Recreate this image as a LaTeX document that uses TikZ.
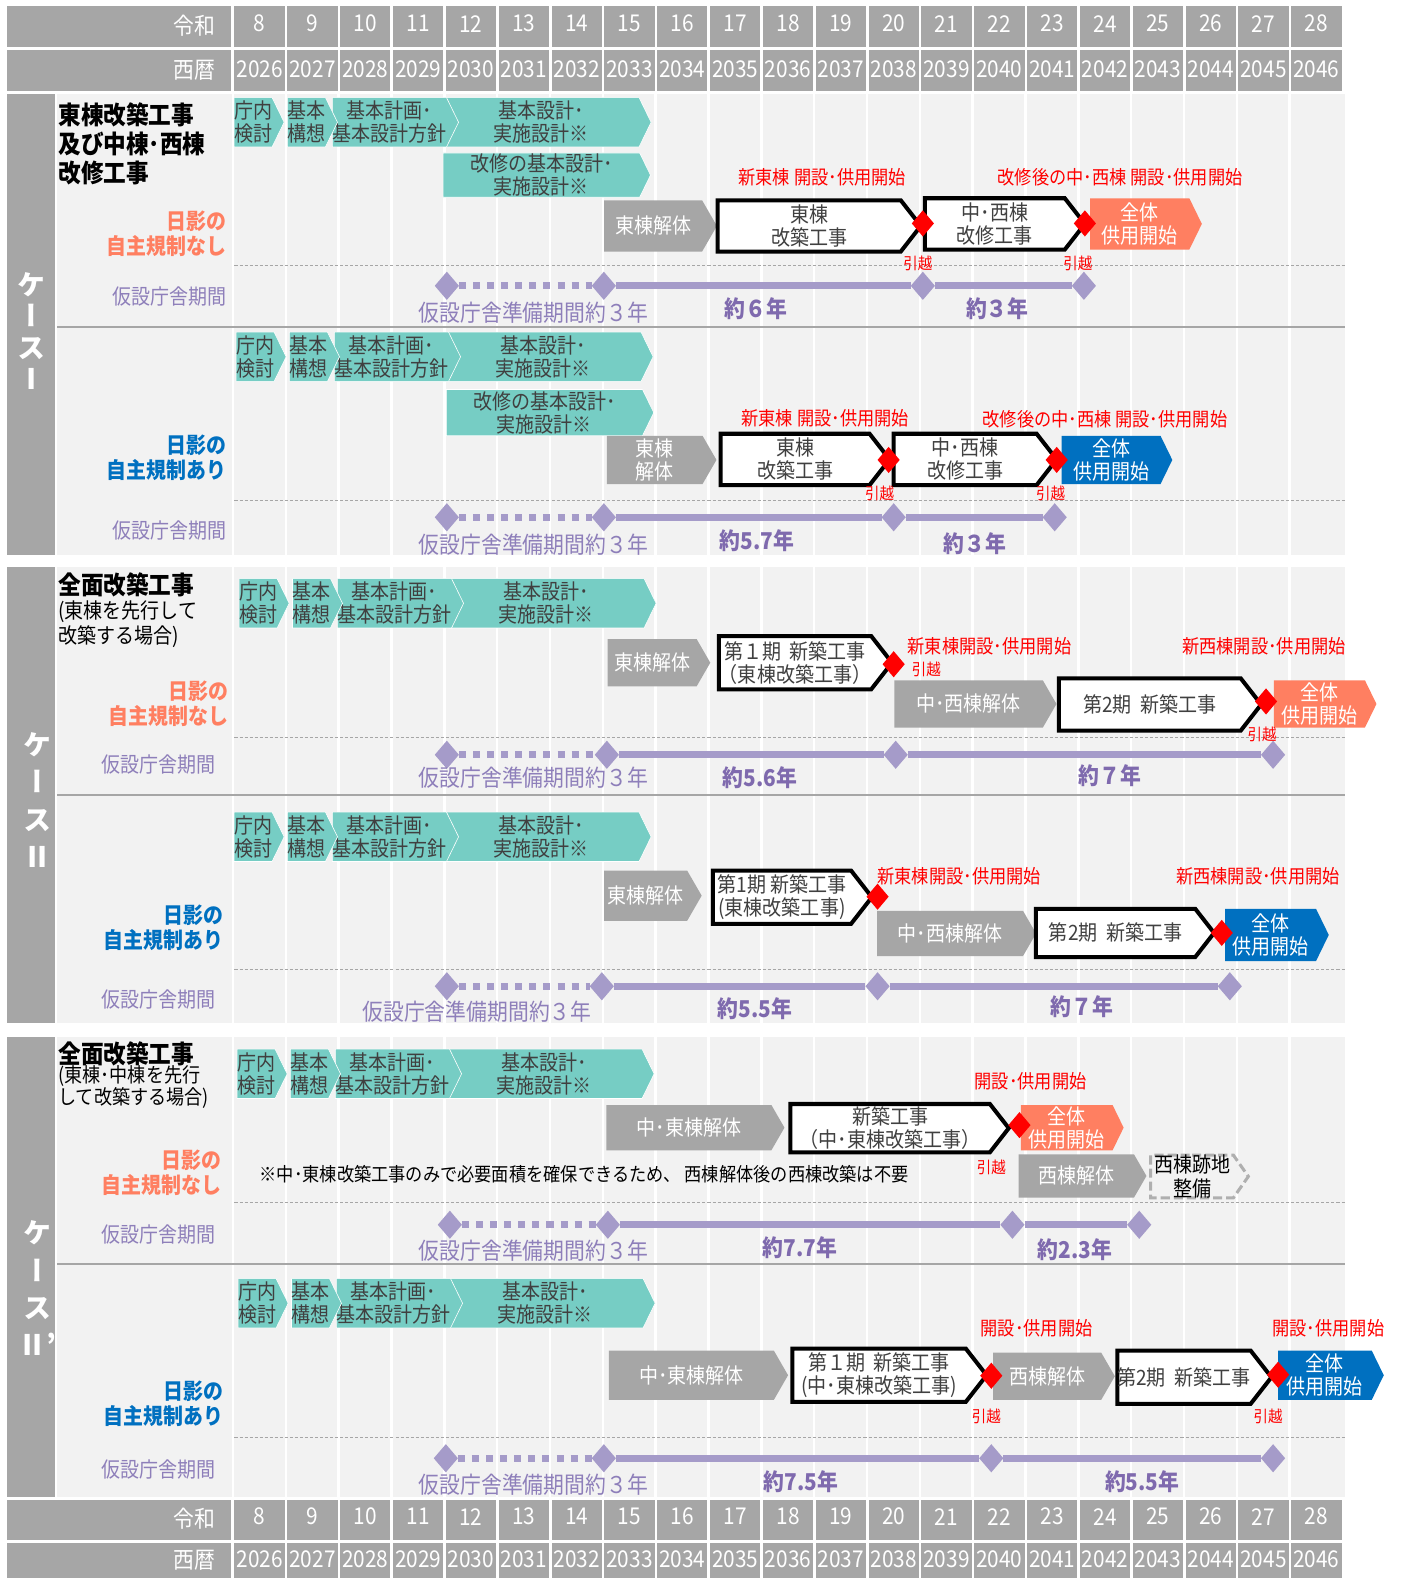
\documentclass[tikz,border=0pt]{standalone}
\usepackage{fontspec}
\setmainfont{Noto Sans CJK JP}[FakeStretch=0.9]
\newfontfamily\jpvert{Noto Sans CJK JP}[RawFeature=+vert]
\usetikzlibrary{shapes.symbols, shapes.geometric}

\definecolor{hdrgray}{HTML}{A6A6A6}
\definecolor{bggray}{HTML}{F2F2F2}
\definecolor{designteal}{HTML}{76CDC4}
\definecolor{coral}{HTML}{FF7F61}
\definecolor{shadeblue}{HTML}{0070C0}
\definecolor{tlpurple}{HTML}{A59BC9}
\definecolor{txtpurple}{HTML}{7F6AAE}
\definecolor{lblpurple}{HTML}{8E7FBA}
\definecolor{darktxt}{HTML}{404040}
\newcommand{\fsz}[2]{\fontsize{#1}{#2}\selectfont}

\begin{document}
\begin{tikzpicture}[x=1pt, y=-1pt,
    every node/.style={inner sep=0pt, outer sep=0pt},
    wh/.style 2 args={minimum width=#1pt, minimum height=#2pt},
    hdrtext/.style={text=white, font=\fsz{23}{25}},
    chev/.style={shape=signal, signal to=east, signal from=nowhere, align=center, font=\fsz{21}{23}},
    designbox/.style={chev, xshift=-6pt, fill=designteal, draw=white, line width=0.6pt, signal pointer angle=128, text=darktxt},
    demobox/.style={chev, xshift=-7pt, fill=hdrgray, signal pointer angle=120, text=white},
    buildbox/.style={chev, xshift=-10pt, fill=white, draw=black, line width=4pt, signal pointer angle=104, text=darktxt},
    nashibox/.style={chev, xshift=-6pt, fill=coral, signal pointer angle=128, text=white},
    aribox/.style={chev, xshift=-6pt, fill=shadeblue, signal pointer angle=128, text=white},
    atochibox/.style={chev, xshift=-7pt, fill=bggray, draw=hdrgray!90, line width=3pt, dash pattern=on 9pt off 4pt, signal pointer angle=110, text=black},
    movemark/.style={diamond, fill=red, minimum width=22pt, minimum height=26pt},
    tlmark/.style={diamond, fill=tlpurple, minimum width=24pt, minimum height=28pt},
    prepline/.style={tlpurple, line width=7pt, dash pattern=on 7pt off 7pt},
    templine/.style={tlpurple, line width=7pt},
    openlabel/.style={text=red, font=\fsz{19}{22}},
    movelabel/.style={text=red, font=\fsz{16}{18}},
    titletext/.style={anchor=west, align=left, text=black, font=\bfseries\fsz{25}{29}},
    subtitletext/.style={anchor=west, align=left, text=black, font=\fsz{21}{25}},
    nashitext/.style={anchor=east, align=right, text=coral, font=\bfseries\fsz{22}{25}},
    aritext/.style={anchor=east, align=right, text=shadeblue, font=\bfseries\fsz{22}{25}},
    kasetsutext/.style={anchor=east, text=lblpurple, font=\fsz{21}{24}},
    preptext/.style={text=lblpurple, font=\fsz{23}{26}},
    yeartext/.style={text=txtpurple, font=\bfseries\fsz{23}{26}},
    casetext/.style={align=center, text=white}]
    \useasboundingbox (0,0) rectangle (1393,1568);

    % Year header, top and bottom
    \foreach \tag/\ya/\yb/\yc/\yd in {top/6/47/50/90, bot/1490/1530/1533/1568} {
        \fill[hdrgray] (7,\ya) rectangle (230,\yb);
        \fill[hdrgray] (7,\yc) rectangle (230,\yd);
        \node[hdrtext, anchor=east] (\tag-reiwa) at (214,{(\ya+\yb)/2-1}) {令和};
        \node[hdrtext, anchor=east] (\tag-seireki) at (214,{(\yc+\yd)/2}) {西暦};
        \foreach \i in {0,...,20} {
            \pgfmathtruncatemacro{\rw}{8+\i}
            \pgfmathtruncatemacro{\yr}{2026+\i}
            \fill[hdrgray] ({233+52.5*\i},\ya) rectangle ({283+52.5*\i},\yb);
            \fill[hdrgray] ({233+52.5*\i},\yc) rectangle ({283+52.5*\i},\yd);
            \node[hdrtext] (\tag-r\i) at ({258+52.5*\i},{(\ya+\yb)/2-3}) {\rw};
            \node[hdrtext] (\tag-y\i) at ({258+52.5*\i},{(\yc+\yd)/2-1}) {\yr};
        }
    }

    % Case panels
    \foreach \ya/\yb/\ym in {93/551/325, 563/1017/790, 1030/1487/1256} {
        \fill[hdrgray] (7,\ya) rectangle (55,\yb);
        \fill[bggray] (57,\ya) rectangle (1336,\yb);
        \foreach \i in {0,...,20}
            \draw[white, line width=2.5pt] ({231.5+52.5*\i},\ya) -- ({231.5+52.5*\i},\yb);
        \draw[hdrgray, line width=2pt] (57,\ym) -- (1336,\ym);
    }
    \foreach \y in {264, 497, 733, 963, 1195, 1428}
        \draw[gray!70, line width=0.8pt, dash pattern=on 3pt off 2pt] (233,\y) -- (1336,\y);

    % Case names
    \foreach \nm/\x/\y/\sk/\num in {caseI/31/329/31/Ⅰ, caseII/37/795/37/Ⅱ, caseIIp/37/1280/37/Ⅱ’}
        \node[casetext, font=\jpvert\bfseries\fsz{28}{\sk}] (\nm) at (\x,\y) {ケ\\ー\\ス\\\num};

    % Design phase chevrons
    \foreach \p/\x/\y in {A/233/121.5, B/235/354.5, C/238/599.5, D/233/831.5, E/236/1067, F/237/1295} {
        \node[designbox, wh={206}{49}] (\p-sekkei) at ({\x+311},\y) {基本設計･\\実施設計※};
        \node[designbox, wh={108}{49}] (\p-keikaku) at ({\x+160},\y) {基本計画･\\基本設計方針};
        \node[designbox, wh={49}{49}] (\p-koso) at ({\x+77.5},\y) {基本\\構想};
        \node[designbox, wh={49}{49}] (\p-kento) at ({\x+24.5},\y) {庁内\\検討};
    }
    \node[designbox, wh={206}{44}] (A-kaishu-sekkei) at (544,174) {改修の基本設計･\\実施設計※};
    \node[designbox, wh={206}{46}] (B-kaishu-sekkei) at (547,410) {改修の基本設計･\\実施設計※};

    % Temporary office timelines
    \foreach \p/\y/\s/\m/\d/\e in {A/284/444/600/917/1077, B/514/444/600/888/1048, C/750/444/603/890/1265,
                                  D/980/444/598/872/1222, E/1217/447/604/1006/1132, F/1449/443/600/985/1265} {
        \node[tlmark] (\p-t0) at (\s,\y) {};
        \node[tlmark] (\p-t1) at (\m,\y) {};
        \node[tlmark] (\p-t2) at (\d,\y) {};
        \node[tlmark] (\p-t3) at (\e,\y) {};
        \draw[prepline] (\p-t0) -- (\p-t1);
        \draw[templine] (\p-t1) -- (\p-t2) -- (\p-t3);
    }
    \foreach \p/\x/\y in {A/530/311, B/530/541, C/530/773, D/474/1005, E/530/1243, F/530/1475}
        \node[preptext] (\p-prep) at (\x,\y) {仮設庁舎準備期間約３年};
    \foreach \p/\n/\x/\y/\txt in {A/1/751/307/約６年, A/2/991/307/約３年, B/1/752/537/約5.7年, B/2/969/540/約３年,
                                 C/1/755/773/約5.6年, C/2/1103/771/約７年, D/1/750/1002/約5.5年, D/2/1075/1000/約７年,
                                 E/1/795/1240/約7.7年, E/2/1068/1242/約2.3年, F/1/796/1472/約7.5年, F/2/1135/1472/約5.5年}
        \node[yeartext] (\p-span\n) at (\x,\y) {\txt};

    % Row labels
    \node[titletext] (A-title) at (58,143) {東棟改築工事\\及び中棟･西棟\\改修工事};
    \node[titletext] (C-title) at (58,581) {全面改築工事};
    \node[subtitletext] (C-sub) at (58,620.5) {(東棟を先行して\\改築する場合)};
    \node[titletext] (E-title) at (58,1047) {全面改築工事};
    \node[subtitletext, font=\fsz{20}{20}] (E-sub) at (58,1080) {(東棟･中棟を先行\\して改築する場合)};
    \node[nashitext] (A-shade) at (225,232) {日影の\\自主規制なし};
    \node[aritext] (B-shade) at (225,455) {日影の\\自主規制あり};
    \node[nashitext] (C-shade) at (227,699) {日影の\\自主規制なし};
    \node[aritext] (D-shade) at (222,921.5) {日影の\\自主規制あり};
    \node[nashitext] (E-shade) at (220,1165) {日影の\\自主規制なし};
    \node[aritext] (F-shade) at (222,1394.5) {日影の\\自主規制あり};
    \foreach \p/\x/\y in {A/225/295, B/225/527, C/214/760, D/214/993, E/214/1227, F/214/1460}
        \node[kasetsutext] (\p-kasetsu) at (\x,\y) {仮設庁舎期間};

    % Case I, no shade rule
    \node[demobox, wh={112}{51}] (A-kaitai) at (656,224.5) {東棟解体};
    \node[buildbox, wh={202}{51}] (A-kaichiku) at (814,224.5) {東棟\\改築工事};
    \node[buildbox, wh={159}{51}] (A-kaishu) at (998.5,222.5) {中･西棟\\改修工事};
    \node[nashibox, wh={111}{51}] (A-zentai) at (1138.5,222.5) {全体\\供用開始};
    \node[movemark] (A-m1) at (917,222) {};
    \node[movemark] (A-m2) at (1078,222) {};
    \node[openlabel] (A-open1) at (817,176) {新東棟 開設･供用開始};
    \node[openlabel] (A-open2) at (1113,176) {改修後の中･西棟 開設･供用開始};
    \node[movelabel] (A-hikkoshi1) at (912,262) {引越};
    \node[movelabel] (A-hikkoshi2) at (1071,262) {引越};

    % Case I, with shade rule
    \node[demobox, wh={109}{48}] (B-kaitai) at (657.5,457) {東棟\\解体};
    \node[buildbox, wh={168}{51}] (B-kaichiku) at (800,456.5) {東棟\\改築工事};
    \node[buildbox, wh={162}{51}] (B-kaishu) at (969,456.5) {中･西棟\\改修工事};
    \node[aribox, wh={110}{48}] (B-zentai) at (1110,457) {全体\\供用開始};
    \node[movemark] (B-m1) at (883,457) {};
    \node[movemark] (B-m2) at (1050,457) {};
    \node[openlabel] (B-open1) at (820,416) {新東棟 開設･供用開始};
    \node[openlabel] (B-open2) at (1098,417) {改修後の中･西棟 開設･供用開始};
    \node[movelabel] (B-hikkoshi1) at (874,490) {引越};
    \node[movelabel] (B-hikkoshi2) at (1044,490) {引越};

    % Case II, no shade rule
    \node[demobox, wh={102}{47}] (C-kaitai) at (655,658.5) {東棟解体};
    \node[buildbox, wh={172}{53}] (C-dai1) at (800,658.5) {第１期\ \ 新築工事\\（東棟改築工事）};
    \node[demobox, wh={161}{47}] (C-kaitai2) at (969.5,699.5) {中･西棟解体};
    \node[buildbox, wh={201}{52}] (C-dai2) at (1152.5,700) {第2期\ \ 新築工事};
    \node[nashibox, wh={102}{47}] (C-zentai) at (1317,699.5) {全体\\供用開始};
    \node[movemark] (C-m1) at (888,660) {};
    \node[movemark] (C-m2) at (1258,697) {};
    \node[openlabel, anchor=west] (C-open1) at (902,642) {新東棟開設･供用開始};
    \node[openlabel] (C-open2) at (1256,642) {新西棟開設･供用開始};
    \node[movelabel, anchor=west] (C-hikkoshi1) at (906,665) {引越};
    \node[movelabel] (C-hikkoshi2) at (1254,730) {引越};

    % Case II, with shade rule
    \node[demobox, wh={97}{50}] (D-kaitai) at (648.5,890) {東棟解体};
    \node[buildbox, wh={158}{53}] (D-dai1) at (787,891.5) {第1期 新築工事\\(東棟改築工事)};
    \node[demobox, wh={158}{45}] (D-kaitai2) at (951,927.5) {中･西棟解体};
    \node[buildbox, wh={177}{48}] (D-dai2) at (1118.5,927) {第2期\ \ 新築工事};
    \node[aribox, wh={103}{52}] (D-zentai) at (1268.5,929) {全体\\供用開始};
    \node[movemark] (D-m1) at (872,891) {};
    \node[movemark] (D-m2) at (1214,927) {};
    \node[openlabel, anchor=west] (D-open1) at (872,871) {新東棟開設･供用開始};
    \node[openlabel] (D-open2) at (1250,871) {新西棟開設･供用開始};

    % Case II', no shade rule
    \node[demobox, wh={177}{45}] (E-kaitai) at (691.5,1120.5) {中･東棟解体};
    \node[buildbox, wh={217}{48}] (E-shinchiku) at (894.5,1121) {新築工事\\（中･東棟改築工事）};
    \node[nashibox, wh={102}{45}] (E-zentai) at (1066,1120.5) {全体\\供用開始};
    \node[movemark] (E-m1) at (1013,1118) {};
    \node[openlabel] (E-open1) at (1024,1074) {開設･供用開始};
    \node[movelabel] (E-hikkoshi1) at (985,1160) {引越};
    \node[demobox, wh={127}{43}] (E-nishi) at (1076.5,1168.5) {西棟解体};
    \node[atochibox, wh={97}{42}] (E-atochi) at (1191.5,1169) {西棟跡地\\整備};
    \node[anchor=west, text=black, font=\fsz{19}{22}] (E-note) at (258,1167)
        {※中･東棟改築工事のみで必要面積を確保できるため、 西棟解体後の西棟改築は不要};

    % Case II', with shade rule
    \node[demobox, wh={178}{49}] (F-kaitai) at (694,1366.5) {中･東棟解体};
    \node[buildbox, wh={193}{53}] (F-dai1) at (883.5,1366.5) {第１期\ \ 新築工事\\(中･東棟改築工事)};
    \node[demobox, wh={121}{47}] (F-nishi) at (1047.5,1367.5) {西棟解体};
    \node[buildbox, wh={151}{53}] (F-dai2) at (1186.5,1368.5) {第2期\ \ 新築工事};
    \node[aribox, wh={105}{49}] (F-zentai) at (1322.5,1366.5) {全体\\供用開始};
    \node[movemark] (F-m1) at (985,1367) {};
    \node[movemark] (F-m2) at (1270,1366) {};
    \node[openlabel] (F-open1) at (1030,1320) {開設･供用開始};
    \node[openlabel] (F-open2) at (1320,1320) {開設･供用開始};
    \node[movelabel] (F-hikkoshi1) at (980,1407) {引越};
    \node[movelabel] (F-hikkoshi2) at (1260,1407) {引越};
\end{tikzpicture}
\end{document}
